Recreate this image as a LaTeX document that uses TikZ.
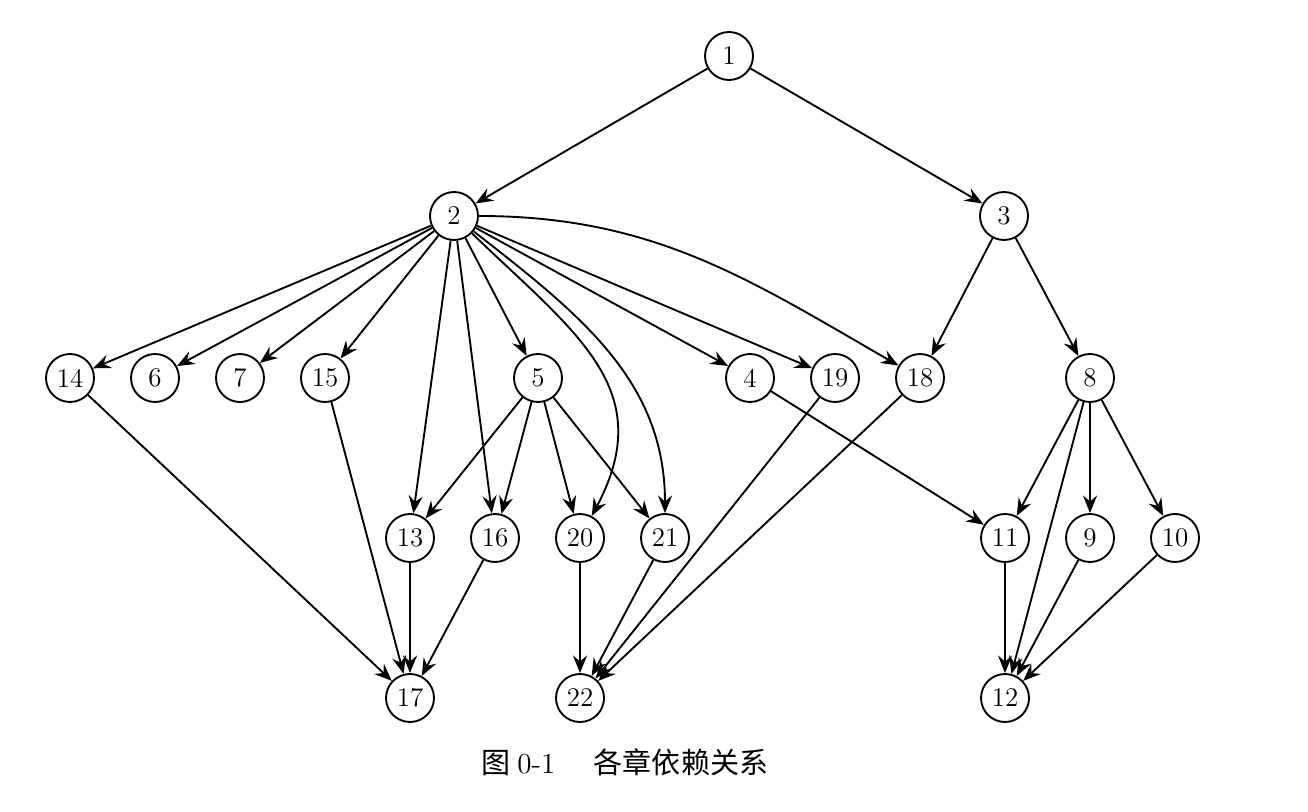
\documentclass[tikz,border=0pt]{standalone}
\usepackage{fontspec}
\newfontfamily\cjk{Noto Sans CJK SC}
\usetikzlibrary{arrows.meta}
\begin{document}
\begin{tikzpicture}[x=0.015cm,y=0.015cm,
  vtx/.style={circle,draw,line width=0.8pt,minimum size=48*0.015cm,inner sep=0pt,font=\fontsize{11.5}{13}\selectfont},
  arr/.style={line width=0.8pt,-{Stealth[length=7.5pt,width=6pt,inset=2.6pt]}}]
\useasboundingbox (0,0) rectangle (1308,811);
\node[vtx] (n1) at (729,755) {1};
\node[vtx] (n2) at (454,595) {2};
\node[vtx] (n3) at (1004,595) {3};
\node[vtx] (n14) at (70,433) {14};
\node[vtx] (n6) at (155,433) {6};
\node[vtx] (n7) at (240,433) {7};
\node[vtx] (n15) at (325,433) {15};
\node[vtx] (n5) at (538,433) {5};
\node[vtx] (n4) at (750,433) {4};
\node[vtx] (n19) at (835,433) {19};
\node[vtx] (n18) at (920,433) {18};
\node[vtx] (n8) at (1090,433) {8};
\node[vtx] (n13) at (410,273) {13};
\node[vtx] (n16) at (495,273) {16};
\node[vtx] (n20) at (580,273) {20};
\node[vtx] (n21) at (665,273) {21};
\node[vtx] (n11) at (1005,273) {11};
\node[vtx] (n9) at (1090,273) {9};
\node[vtx] (n10) at (1175,273) {10};
\node[vtx] (n17) at (410,113) {17};
\node[vtx] (n22) at (580,113) {22};
\node[vtx] (n12) at (1005,113) {12};
\node[font=\fontsize{12.4}{14}\selectfont] (cap) at (625,49) {\cjk 图\ \rmfamily 0-1\quad\ \cjk 各章依赖关系};
\draw[arr] (n1) -- (n2);
\draw[arr] (n1) -- (n3);
\draw[arr] (n2) -- (n14);
\draw[arr] (n2) -- (n6);
\draw[arr] (n2) -- (n7);
\draw[arr] (n2) -- (n15);
\draw[arr] (n2) -- (n13);
\draw[arr] (n2) -- (n16);
\draw[arr] (n2) -- (n5);
\draw[arr] (n2) to[out=-44,in=62,looseness=1.2] (n20);
\draw[arr] (n2) to[out=-38,in=90] (n21);
\draw[arr] (n2) -- (n4);
\draw[arr] (n2) -- (n19);
\draw[arr] (n2) to[out=0,in=150] (n18);
\draw[arr] (n3) -- (n18);
\draw[arr] (n3) -- (n8);
\draw[arr] (n14) -- (n17);
\draw[arr] (n15) -- (n17);
\draw[arr] (n5) -- (n13);
\draw[arr] (n5) -- (n16);
\draw[arr] (n5) -- (n20);
\draw[arr] (n5) -- (n21);
\draw[arr] (n4) -- (n11);
\draw[arr] (n19) -- (n22);
\draw[arr] (n18) -- (n22);
\draw[arr] (n8) -- (n11);
\draw[arr] (n8) -- (n12);
\draw[arr] (n8) -- (n9);
\draw[arr] (n8) -- (n10);
\draw[arr] (n13) -- (n17);
\draw[arr] (n16) -- (n17);
\draw[arr] (n20) -- (n22);
\draw[arr] (n21) -- (n22);
\draw[arr] (n11) -- (n12);
\draw[arr] (n9) -- (n12);
\draw[arr] (n10) -- (n12);
\end{tikzpicture}
\end{document}
